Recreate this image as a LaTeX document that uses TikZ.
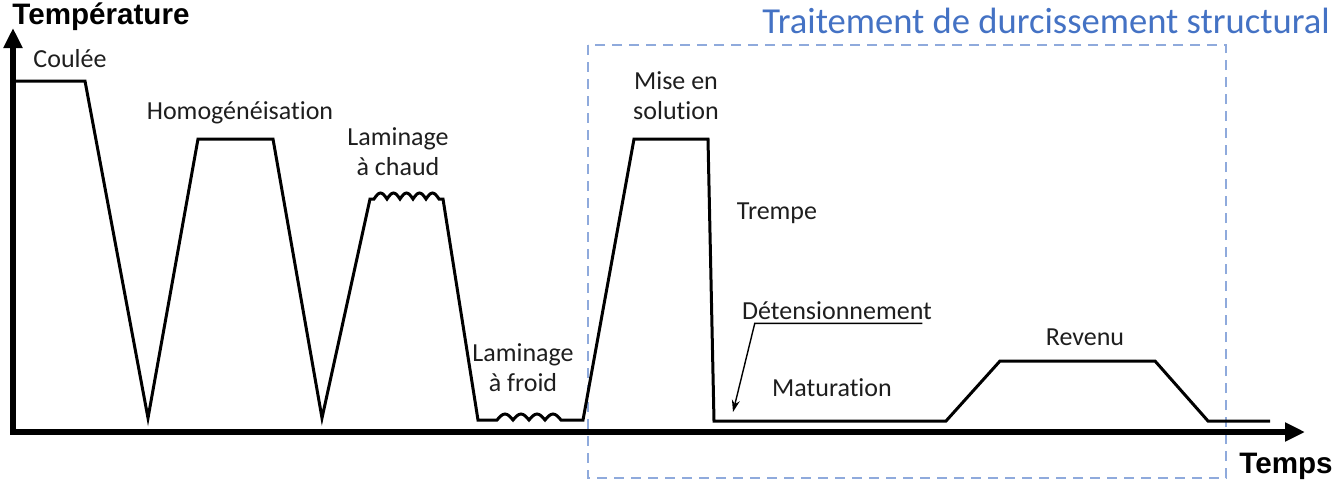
\documentclass[tikz,border=0pt]{standalone}
\usepackage{fontspec}
\setmainfont{Carlito}[Ligatures=NoCommon]
\newfontfamily\axisfont{Liberation Sans}
\usetikzlibrary{arrows.meta}
\definecolor{boxblue}{RGB}{143,170,220}
\definecolor{titleblue}{RGB}{68,114,196}
\definecolor{labelgray}{RGB}{30,30,30}

\begin{document}
\begin{tikzpicture}[x=0.5pt, y=-0.5pt,
    axis/.style={line width=3pt, -{Triangle[length=10pt,width=9pt]}},
    curve/.style={line width=1.5pt, line join=miter},
    lbl/.style={font=\fontsize{13}{15}\selectfont, text=labelgray, align=center, inner sep=0pt},
    axislbl/.style={font=\axisfont\bfseries\fontsize{14.8}{17}\selectfont, inner sep=0pt},
    callout/.style={line width=0.7pt, -{Stealth[length=6pt,width=4pt]}}]
            \useasboundingbox (0,0) rectangle (1338,487);

            % Frame of the hardening treatment
            \draw[boxblue, line width=0.9pt, dash pattern=on 5pt off 3.5pt] (588,45) rectangle (1226,478);
            \node[font=\fontsize{18.3}{21}\selectfont, text=titleblue, inner sep=0pt] (treat) at (1046,21) {Traitement de durcissement structural};

            % Axes
            \coordinate (origin) at (13,432);
            \draw[axis] (10,432) -- (1305,432);
            \draw[axis] (origin) -- (13,28);
            \node[axislbl] (ytitle) at (101,17) {Température};
            \node[axislbl] (xtitle) at (1286,466) {Temps};

            % Temperature history
            \draw[curve] (13,81) -- (85,81) -- (148,418) -- (198,139) -- (273,139) -- (322,418)
                -- (370,199) -- (374,199)
                \foreach \i in {1,...,5} { sin ++(6.5,-6) cos ++(6.5,6) }
                -- (443,199) -- (478,420) -- (497,420)
                \foreach \i in {1,...,4} { sin ++(8,-6) cos ++(8,6) }
                -- (583,420) -- (634,139) -- (708,139) -- (714,421) -- (946,421)
                -- (1000,361) -- (1155,361) -- (1208,421) -- (1270,421);

            % Labels
            \node[lbl] (coulee) at (70,59) {Coulée};
            \node[lbl] (homog) at (240,113) {Homogénéisation};
            \node[lbl] (chaud) at (398,152) {Laminage\\à chaud};
            \node[lbl] (froid) at (523,368) {Laminage\\à froid};
            \node[lbl] (mise) at (676,96) {Mise en\\solution};
            \node[lbl] (trempe) at (777,213) {Trempe};
            \node[lbl] (deten) at (837,311) {Détensionnement};
            \node[lbl] (matur) at (832,388) {Maturation};
            \node[lbl] (revenu) at (1085,337) {Revenu};

            % Stress relief pointer
            \coordinate (detenend) at (733,412);
            \draw[callout] ([xshift=-5pt,yshift=-1.5pt]deten.south east) -- ([xshift=6.5pt,yshift=-1.5pt]deten.south west) -- (detenend);
        \end{tikzpicture}
\end{document}
